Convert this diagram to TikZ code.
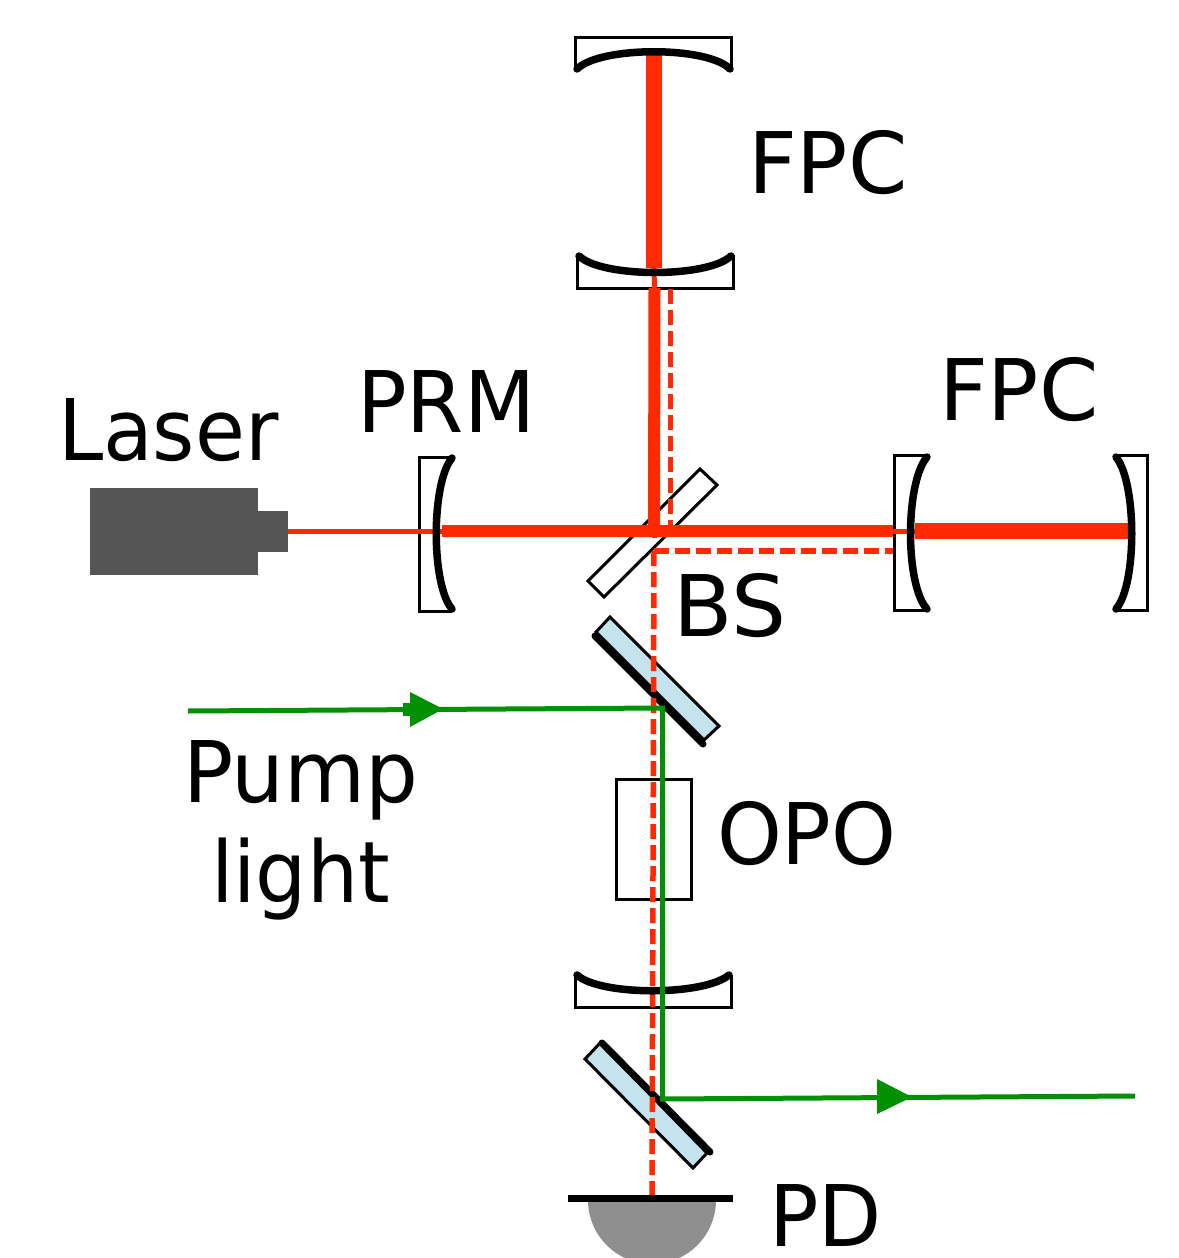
\documentclass[tikz,border=0pt]{standalone}
\usepackage{fontspec}
\setmainfont{DejaVu Sans}
\definecolor{beam}{HTML}{FF2A00}
\definecolor{pumpgreen}{HTML}{009000}
\definecolor{glass}{HTML}{C5E3EC}
\definecolor{lasergray}{HTML}{555555}
\definecolor{pdgray}{HTML}{8F8F8F}
\tikzset{
  lbl/.style={inner sep=0pt,outer sep=0pt,anchor=base west,font=\fontsize{85}{100}\selectfont,text=black},
  optic/.style={draw=black,line width=3pt,fill=white,line join=miter},
  mirrorface/.style={draw=black,line width=7.5pt,line cap=round},
  thinbeam/.style={draw=beam,line width=5pt},
  midbeam/.style={draw=beam,line width=12pt},
  fatbeam/.style={draw=beam,line width=16pt},
  dashbeam/.style={draw=beam,line width=5.5pt,dash pattern=on 15pt off 6pt},
  greenbeam/.style={draw=pumpgreen,line width=5pt,line join=miter},
  greenhead/.style={fill=pumpgreen,draw=none},
}
\begin{document}
\begin{tikzpicture}[x=1pt,y=-1pt]
\useasboundingbox (0,0) rectangle (1178,1258);
% named points
\coordinate (laserout) at (288,531);
\coordinate (prmface) at (442,531);
\coordinate (bsc) at (654,531);
\coordinate (fpcA) at (893,531);
\coordinate (fpcAf) at (915,531);
\coordinate (fpcB) at (1128,531);
\coordinate (topA) at (654,55);
\coordinate (topB) at (654,268);
\coordinate (topC) at (654.5,288);
\coordinate (dcorner) at (654,551);
\coordinate (dtop) at (670.5,289);
\coordinate (dtopend) at (670.5,526);
\coordinate (dright) at (893,551);
\coordinate (pdtop) at (652,1195);
\coordinate (pumpin) at (188,711);
\coordinate (g1) at (662.5,708);
\coordinate (g2) at (662.5,1099);
\coordinate (gout) at (1135,1096);
% laser
\fill[lasergray] (90,488) rectangle (258,575);
\fill[lasergray] (258,511) rectangle (288,552);
% mirror substrates
\draw[optic] (575.5,70) -- (575.5,37.5) -- (731.5,37.5) -- (731.5,70);
\draw[optic] (577,255) -- (577,288) -- (733,288) -- (733,255);
\draw[optic] (452,457) -- (419,457) -- (419,611) -- (452,611);
\draw[optic] (927,455.5) -- (894,455.5) -- (894,610.5) -- (927,610.5);
\draw[optic] (1115,455.5) -- (1147.5,455.5) -- (1147.5,610.5) -- (1115,610.5);
\draw[optic] (575,975) -- (575,1007) -- (731,1007) -- (731,975);
% OPO crystal
\node[optic,minimum width=75pt,minimum height=120pt,inner sep=0pt,outer sep=0pt] (opobox) at (654,839.5) {};
% beam splitter and dichroics
\draw[optic] (700,469) -- (717,485) -- (604,597) -- (588,581) -- cycle;
\draw[optic,fill=glass] (610,617) -- (719,726) -- (704,740) -- (596,632) -- cycle;
\draw[draw=black,line width=7pt,line cap=round] (595,636) -- (703,744);
\draw[optic,fill=glass] (600,1043) -- (707,1153) -- (693,1168) -- (585,1059) -- cycle;
\draw[draw=black,line width=7pt,line cap=round] (602,1043) -- (710,1152);
% photodiode
\begin{scope}
\clip (0,0) rectangle (1178,1258);
\fill[pdgray] (588,1200) arc[start angle=180,end angle=0,radius=64];
\end{scope}
% red beams
\draw[thinbeam] (laserout) -- (prmface);
\draw[midbeam] (prmface) -- (fpcA);
\draw[thinbeam] (fpcA) -- (fpcAf);
\draw[fatbeam] (fpcAf) -- (fpcB);
\draw[fatbeam] (topA) -- (topB);
\draw[thinbeam] (topB) -- (topC);
\draw[midbeam] (topC) -- (bsc);
\draw[thinbeam] (bsc) -- ++(0,7);
\draw[dashbeam] (dtop) -- (dtopend);
\draw[dashbeam] (dcorner) -- (dright);
\draw[dashbeam] (dcorner) -- (pdtop);
% pd bar
\draw[draw=black,line width=7pt] (568,1198.5) -- (733,1198.5);
% mirror faces
\draw[mirrorface] (577,69) .. controls (600,46) and (708,46) .. (730,69);
\draw[mirrorface] (579,256) .. controls (602,278) and (708,278) .. (731,256);
\draw[mirrorface] (452,458) .. controls (431,483) and (431,585) .. (452,609);
\draw[mirrorface] (927,457) .. controls (905,483) and (905,585) .. (927,609);
\draw[mirrorface] (1116,457) .. controls (1137,483) and (1137,585) .. (1116,609);
\draw[mirrorface] (577,975) .. controls (600,996) and (704,996) .. (729,975);
% green beams
\draw[greenbeam] (pumpin) -- (g1) -- (g2) -- (gout);
\fill[greenhead] (443,709) -- (410,692) -- (410,727) -- cycle;
\fill[greenhead] (403,703) rectangle (411,716);
\fill[greenhead] (912,1097) -- (877,1079) -- (877,1114) -- cycle;
% labels
\node[lbl] (laser) at (58,460) {\scalebox{.955}[1]{Laser}};
\node[lbl] (prm) at (357,432) {\scalebox{.97}[1]{PRM}};
\node[lbl] (fpc1) at (748,193) {FPC};
\node[lbl] (fpc2) at (939,420) {FPC};
\node[lbl] (bs) at (673,636) {\scalebox{1.02}[1]{BS}};
\node[lbl] (pump) at (183,802) {\scalebox{.98}[1]{Pump}};
\node[lbl] (light) at (211,902) {\scalebox{.95}[1]{light}};
\node[lbl] (opo) at (717,864) {\scalebox{.97}[1]{OPO}};
\node[lbl] (pd) at (769,1246) {\scalebox{.965}[1]{PD}};
\end{tikzpicture}
\end{document}
